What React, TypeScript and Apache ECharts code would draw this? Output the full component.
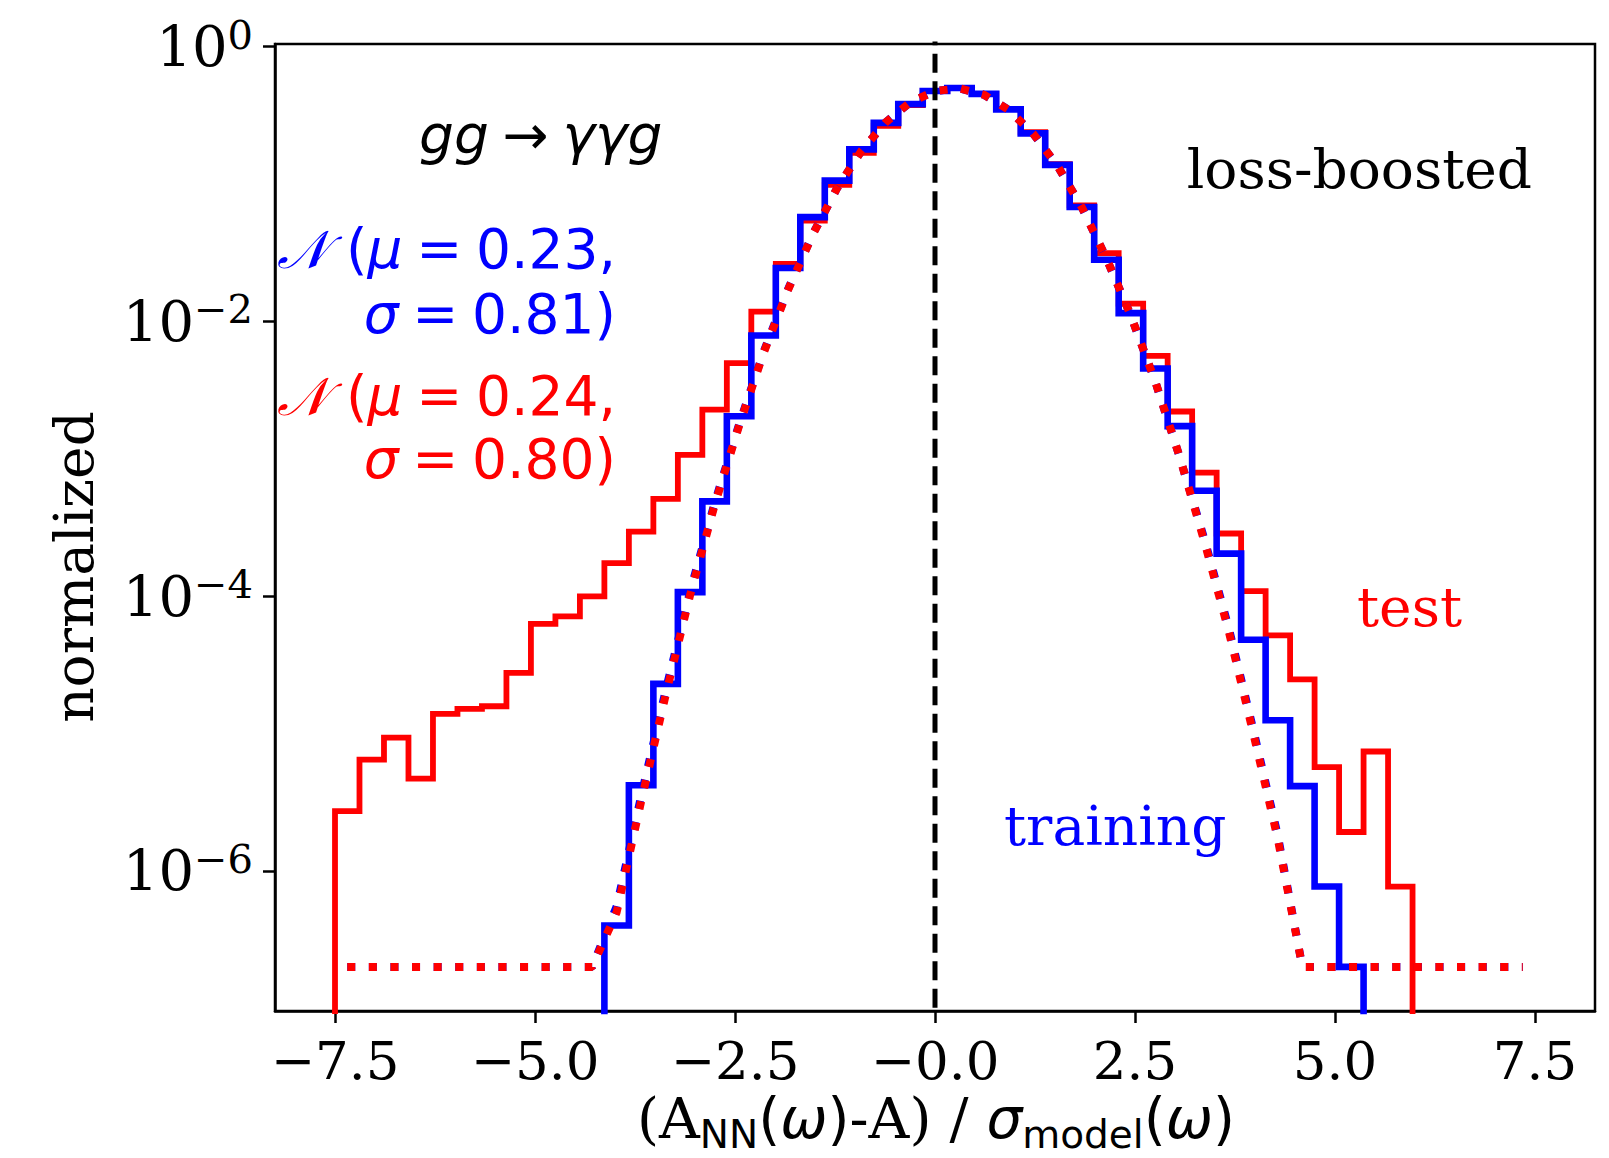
import React, { useEffect, useRef } from 'react';
import * as echarts from 'echarts';

// ---------- data ----------
// histogram binning: 49 equal bins over [-7.5, 7.5]
const BIN_START = -7.5;
const BIN_END = 7.5;
const N_BINS = 49;

// training (blue) histogram, bins 11 .. 41
const TRAIN_FIRST_BIN = 11;
const TRAIN_VALUES = [
  4.0e-7, 4.2e-6, 2.3e-5, 1.07e-4, 4.9e-4, 2.04e-3, 7.9e-3, 0.0245, 0.0575, 0.106,
  0.179, 0.279, 0.382, 0.476, 0.501, 0.454, 0.35, 0.234, 0.138, 0.0682,
  0.0281, 0.0115, 4.55e-3, 1.73e-3, 5.86e-4, 2.04e-4, 4.82e-5, 1.25e-5, 4.14e-6, 7.7e-7,
  2.0e-7,
];

// test (red) histogram, bins 0 .. 43
const TEST_FIRST_BIN = 0;
const TEST_VALUES = [
  2.72e-6, 6.46e-6, 9.33e-6, 4.7e-6, 1.39e-5, 1.51e-5, 1.58e-5, 2.76e-5, 6.28e-5, 7.13e-5,
  9.98e-5, 1.74e-4, 2.95e-4, 5.11e-4, 1.07e-3, 2.28e-3, 4.97e-3, 0.0118, 0.0262, 0.0543,
  0.0989, 0.169, 0.266, 0.376, 0.476, 0.501, 0.454, 0.353, 0.239, 0.14,
  0.07, 0.0314, 0.0135, 5.62e-3, 2.21e-3, 7.94e-4, 2.86e-4, 1.09e-4, 5.19e-5, 2.48e-5,
  5.69e-6, 1.92e-6, 7.4e-6, 7.67e-7,
];

// Gaussian fits (dotted), read at the 49 bin centres
const FIT_TEST = [
  2.0e-7, 2.0e-7, 2.0e-7, 2.0e-7, 2.0e-7, 2.0e-7, 2.0e-7, 2.0e-7, 2.0e-7, 2.0e-7,
  2.0e-7, 5.0e-7, 3.2e-6, 1.9e-5, 1.02e-4, 4.6e-4, 1.74e-3, 5.9e-3, 0.017, 0.0427,
  0.0933, 0.175, 0.283, 0.395, 0.476, 0.498, 0.447, 0.348, 0.234, 0.136,
  0.0676, 0.0288, 0.011, 3.63e-3, 1.02e-3, 2.5e-4, 5.5e-5, 1.0e-5, 1.7e-6, 2.0e-7,
  2.0e-7, 2.0e-7, 2.0e-7, 2.0e-7, 2.0e-7, 2.0e-7, 2.0e-7, 2.0e-7, 2.0e-7,
];
const FIT_TRAIN = [
  2.0e-7, 2.0e-7, 2.0e-7, 2.0e-7, 2.0e-7, 2.0e-7, 2.0e-7, 2.0e-7, 2.0e-7, 2.0e-7,
  2.0e-7, 5.5e-7, 3.5e-6, 2.05e-5, 1.08e-4, 4.75e-4, 1.78e-3, 6.0e-3, 0.0172, 0.0429,
  0.0933, 0.175, 0.283, 0.395, 0.476, 0.498, 0.447, 0.348, 0.234, 0.136,
  0.0676, 0.0288, 0.011, 3.63e-3, 1.02e-3, 2.6e-4, 5.8e-5, 1.06e-5, 1.8e-6, 2.0e-7,
  2.0e-7, 2.0e-7, 2.0e-7, 2.0e-7, 2.0e-7, 2.0e-7, 2.0e-7, 2.0e-7, 2.0e-7,
];

// axes
const X_MIN = -8.25;
const X_MAX = 8.25;
const X_TICKS = [-7.5, -5.0, -2.5, 0, 2.5, 5.0, 7.5];
const X_TICK_LABELS = ['\u22127.5', '\u22125.0', '\u22122.5', '\u22120.0', '2.5', '5.0', '7.5'];
const Y_MIN = 9.55e-8;
const Y_MAX = 1.047;
const Y_TICKS = [1, 1e-2, 1e-4, 1e-6];
const Y_TICK_EXPONENTS = ['0', '\u22122', '\u22124', '\u22126'];

const RED = '#ff0000';
const BLUE = '#0000ff';
const SERIF = 'DejaVu Serif';
const SANS = 'DejaVu Sans';
const OUTSIDE = 1e-10; // below the axis minimum: clipped, like log(0)

// ---------- helpers ----------
const EDGES = Array.from({ length: N_BINS + 1 }, (_, k) => BIN_START + (k * (BIN_END - BIN_START)) / N_BINS);
const CENTERS = EDGES.slice(0, N_BINS).map((e, k) => (e + EDGES[k + 1]) / 2);

function stepOutline(firstBin: number, values: number[]) {
  const pts: number[][] = [[EDGES[firstBin], OUTSIDE]];
  values.forEach((v, i) => {
    pts.push([EDGES[firstBin + i], v]);
    pts.push([EDGES[firstBin + i + 1], v]);
  });
  pts.push([EDGES[firstBin + values.length], OUTSIDE]);
  return pts;
}

function nearestIndex(arr: number[], v: number, log: boolean) {
  let best = 0;
  let bd = Infinity;
  arr.forEach((t, i) => {
    const d = log ? Math.abs(Math.log10(t) - (v > 0 ? Math.log10(v) : v)) : Math.abs(t - v);
    if (d < bd) {
      bd = d;
      best = i;
    }
  });
  return best;
}

function fitRich(color: string) {
  return {
    c: { fontFamily: 'DejaVu Sans, DejaVu Serif, Noto Sans', fontStyle: 'italic', fontSize: 53, fill: color },
    i: { fontFamily: SANS, fontStyle: 'italic', fontSize: 55, fill: color },
    u: { fontFamily: SANS, fontSize: 55, fill: color },
  };
}

export default function App() {
  const ref = useRef<HTMLDivElement>(null);
  useEffect(() => {
    if (!ref.current) return;
    const chart = echarts.init(ref.current, null, { renderer: 'svg', width: 1609, height: 1158 });

    const lineBase = {
      type: 'line',
      showSymbol: false,
      symbol: 'none',
      clip: true,
      silent: true,
      smooth: false,
    };

    const option: any = {
      animation: false,
      backgroundColor: '#ffffff',
      grid: {
        left: 275,
        right: 14,
        top: 44,
        bottom: 147,
        show: true,
        borderColor: '#000',
        borderWidth: 2.5,
        backgroundColor: 'transparent',
        containLabel: false,
        outerBoundsMode: 'none',
      },
      xAxis: {
        type: 'value',
        min: X_MIN,
        max: X_MAX,
        axisLine: { show: true, onZero: false, lineStyle: { color: '#000', width: 2.5 } },
        axisTick: { show: true, length: 12, customValues: X_TICKS, lineStyle: { color: '#000', width: 2.5 } },
        axisLabel: {
          show: true,
          customValues: X_TICKS,
          margin: 22,
          color: '#000',
          fontFamily: SERIF,
          fontSize: 53,
          lineHeight: 54,
          formatter: (v: number) => X_TICK_LABELS[nearestIndex(X_TICKS, v, false)],
        },
        splitLine: { show: false },
      },
      yAxis: {
        type: 'log',
        logBase: 10,
        min: Y_MIN,
        max: Y_MAX,
        axisLine: { show: true, onZero: false, lineStyle: { color: '#000', width: 2.5 } },
        axisTick: { show: true, length: 12, customValues: Y_TICKS, lineStyle: { color: '#000', width: 2.5 } },
        minorTick: { show: false },
        axisLabel: {
          show: true,
          customValues: Y_TICKS,
          margin: 22,
          color: '#000',
          formatter: (v: number) => `{b|10}{s|${Y_TICK_EXPONENTS[nearestIndex(Y_TICKS, v, true)]}}`,
          rich: {
            b: { fontFamily: SERIF, fontSize: 56, lineHeight: 64, color: '#000' },
            s: { fontFamily: SERIF, fontSize: 40, lineHeight: 32, verticalAlign: 'top', color: '#000' },
          },
        },
        splitLine: { show: false },
      },
      series: [
        {
          ...lineBase,
          name: 'test',
          data: stepOutline(TEST_FIRST_BIN, TEST_VALUES),
          lineStyle: { color: RED, width: 5.8, join: 'miter' },
          z: 2,
        },
        {
          ...lineBase,
          name: 'training',
          data: stepOutline(TRAIN_FIRST_BIN, TRAIN_VALUES),
          lineStyle: { color: BLUE, width: 6.6, join: 'miter' },
          z: 3,
        },
        {
          ...lineBase,
          name: 'fit training',
          data: CENTERS.map((c, i) => [c, FIT_TRAIN[i]]),
          lineStyle: { color: BLUE, width: 8, type: [8, 13.6], cap: 'butt' },
          z: 4,
        },
        {
          ...lineBase,
          name: 'fit test',
          data: CENTERS.map((c, i) => [c, FIT_TEST[i]]),
          lineStyle: { color: RED, width: 8, type: [8, 13.6], cap: 'butt' },
          z: 5,
        },
        {
          ...lineBase,
          name: 'zero',
          data: [
            [0, OUTSIDE],
            [0, 100],
          ],
          lineStyle: { color: '#000', width: 5, type: [19, 8.5] },
          z: 6,
        },
      ],
      graphic: {
        elements: [
          {
            type: 'text',
            x: 419,
            y: 135,
            style: {
              text: '{i|gg}{u|\u2005\u2192\u2005}{i|\u03b3\u03b3g}',
              fill: '#000',
              align: 'left',
              verticalAlign: 'middle',
              textAlign: 'left',
              textVerticalAlign: 'middle',
              rich: {
                i: { fontFamily: SANS, fontStyle: 'italic', fontSize: 55, fill: '#000' },
                u: { fontFamily: SANS, fontSize: 55, fill: '#000' },
              },
            },
          },
          {
            type: 'text',
            x: 1532,
            y: 169,
            style: {
              text: 'loss-boosted',
              fill: '#000',
              fontFamily: SERIF,
              fontSize: 55,
              align: 'right',
              verticalAlign: 'middle',
              textAlign: 'right',
              textVerticalAlign: 'middle',
            },
          },
          ...[
            { y: 249, color: BLUE, t: '{c|\ud835\udca9}{u|\u2004(}{i|\u03bc}{u|\u2005=\u20050.23,}' },
            { y: 314, color: BLUE, t: '{i|\u03c3}{u|\u2005=\u20050.81)}' },
            { y: 396, color: RED, t: '{c|\ud835\udca9}{u|\u2004(}{i|\u03bc}{u|\u2005=\u20050.24,}' },
            { y: 459, color: RED, t: '{i|\u03c3}{u|\u2005=\u20050.80)}' },
          ].map((l) => ({
            type: 'text',
            x: 616,
            y: l.y,
            style: {
              text: l.t,
              fill: l.color,
              align: 'right',
              verticalAlign: 'middle',
              textAlign: 'right',
              textVerticalAlign: 'middle',
              rich: fitRich(l.color),
            },
          })),
          {
            type: 'text',
            x: 1357,
            y: 607,
            style: {
              text: 'test',
              fill: RED,
              fontFamily: SERIF,
              fontSize: 55,
              align: 'left',
              verticalAlign: 'middle',
              textAlign: 'left',
              textVerticalAlign: 'middle',
            },
          },
          {
            type: 'text',
            x: 1004,
            y: 826,
            style: {
              text: 'training',
              fill: BLUE,
              fontFamily: SERIF,
              fontSize: 55,
              align: 'left',
              verticalAlign: 'middle',
              textAlign: 'left',
              textVerticalAlign: 'middle',
            },
          },
          {
            type: 'text',
            x: 74,
            y: 567,
            rotation: Math.PI / 2,
            style: {
              text: 'normalized',
              fill: '#000',
              fontFamily: SERIF,
              fontSize: 55,
              align: 'center',
              verticalAlign: 'middle',
              textAlign: 'center',
              textVerticalAlign: 'middle',
            },
          },
          {
            type: 'text',
            x: 936,
            y: 1122,
            style: {
              text:
                '{s|(A}{sub|NN}{m|(}{mi|\u03c9}{m|)}{s|-A) / }{mi|\u03c3}{sub|model}{m|(}{mi|\u03c9}{m|)}',
              fill: '#000',
              align: 'center',
              verticalAlign: 'middle',
              textAlign: 'center',
              textVerticalAlign: 'middle',
              rich: {
                s: { fontFamily: SERIF, fontSize: 56.5, lineHeight: 64, verticalAlign: 'top', fill: '#000' },
                m: { fontFamily: SANS, fontSize: 56.5, lineHeight: 64, verticalAlign: 'top', fill: '#000' },
                mi: { fontFamily: SANS, fontStyle: 'italic', fontSize: 56.5, lineHeight: 64, verticalAlign: 'top', fill: '#000' },
                sub: { fontFamily: SANS, fontSize: 39, lineHeight: 40, verticalAlign: 'bottom', fill: '#000' },
              },
            },
          },
        ],
      },
    };

    chart.setOption(option);
    return () => chart.dispose();
  }, []);

  return (
    <div
      ref={ref}
      style={{ position: 'fixed', left: 0, top: 0, width: 1609, height: 1158, background: '#ffffff' }}
    />
  );
}
